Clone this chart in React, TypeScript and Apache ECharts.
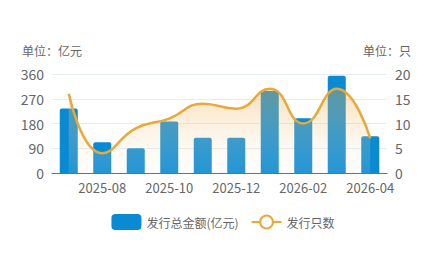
import React, { useEffect, useRef } from "react";
import * as echarts from "echarts";

const categories = ["2025-07", "2025-08", "2025-09", "2025-10", "2025-11", "2025-12", "2026-01", "2026-02", "2026-03", "2026-04"];
const amountValues = [235, 112, 90, 187, 128, 128, 298, 199, 354, 134];
const countValues = [16, 4, 9, 11, 14, 13, 17, 10, 17, 7];
const leftTicks = [0, 90, 180, 270, 360];
const rightTicks = [0, 5, 10, 15, 20];

export default function App() {
  const ref = useRef<HTMLDivElement>(null);
  useEffect(() => {
    const chart = echarts.init(ref.current!, null, { renderer: "svg" });
    const font = "'Noto Sans CJK SC', 'Noto Sans', sans-serif";
    chart.setOption({
      animation: false,
      textStyle: { fontFamily: font },
      legend: {
        bottom: 18,
        left: "center",
        itemGap: 12,
        textStyle: { color: "#666", fontSize: 12, fontFamily: font },
        data: [
          { name: "发行总金额(亿元)", icon: "roundRect", itemStyle: { color: "#0a8ad2" } },
          { name: "发行只数" },
        ],
        itemWidth: 30,
        itemHeight: 16,
      },
      grid: { left: 52, right: 59, top: 74, bottom: 80 },
      xAxis: {
        type: "category",
        data: categories,
        boundaryGap: true,
        axisLine: { lineStyle: { color: "#6e7079" } },
        axisTick: { interval: (i: number) => i % 2 === 1, lineStyle: { color: "#6e7079" } },
        axisLabel: { interval: (i: number) => i % 2 === 1, color: "#666", fontSize: 13, fontFamily: font, margin: 8 },
      },
      yAxis: [
        {
          type: "value",
          min: leftTicks[0],
          max: leftTicks[leftTicks.length - 1],
          interval: 90,
          name: "单位：亿元",
          nameGap: 18,
          nameTextStyle: { color: "#666", fontSize: 12, fontFamily: font, align: "center" },
          axisLabel: { color: "#666", fontSize: 14, fontFamily: font },
          axisLine: { show: false },
          axisTick: { show: false },
          splitLine: { lineStyle: { color: "#e3ecf4" } },
        },
        {
          type: "value",
          min: rightTicks[0],
          max: rightTicks[rightTicks.length - 1],
          interval: 5,
          name: "单位：只",
          nameGap: 18,
          nameTextStyle: { color: "#666", fontSize: 12, fontFamily: font, align: "center" },
          axisLabel: { color: "#666", fontSize: 14, fontFamily: font },
          axisLine: { show: false },
          axisTick: { show: false },
          splitLine: { show: false },
        },
      ],
      series: [
        {
          name: "发行总金额(亿元)",
          type: "bar",
          data: amountValues,
          barWidth: 18,
          itemStyle: { color: "#0a8ad2", borderRadius: [2, 2, 0, 0] },
        },
        {
          name: "发行只数",
          type: "line",
          yAxisIndex: 1,
          data: countValues,
          smooth: true,
          showSymbol: false,
          symbol: "emptyCircle",
          symbolSize: 10,
          itemStyle: { color: "#e8a93a" },
          lineStyle: { color: "#e8a93a", width: 2.5 },
          areaStyle: {
            color: new echarts.graphic.LinearGradient(0, 0, 0, 1, [
              { offset: 0, color: "rgba(236,170,70,0.55)" },
              { offset: 1, color: "rgba(255,245,230,0.15)" },
            ]),
          },
        },
      ],
    });
    return () => chart.dispose();
  }, []);
  return <div ref={ref} style={{ width: 446, height: 253, position: "absolute", left: 0, top: 0 }} />;
}
